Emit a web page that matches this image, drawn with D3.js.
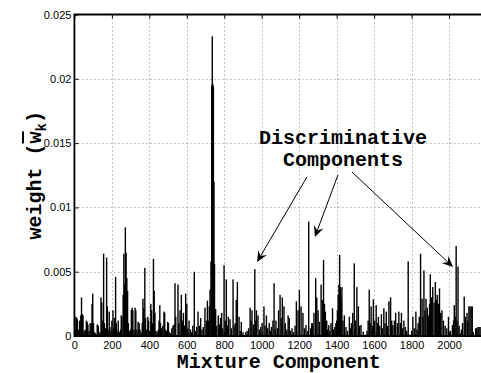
<!DOCTYPE html>
<html><head><meta charset="utf-8">
<script src="https://cdn.jsdelivr.net/npm/d3@7"></script>
<style>html,body{margin:0;padding:0;background:#fff;} svg{display:block}</style>
</head><body><svg id="chart" width="481" height="373"></svg>
<script>
const xTicks = [0,200,400,600,800,1000,1200,1400,1600,1800,2000];
const yTicks = [0,0.005,0.01,0.015,0.02,0.025];
const yTickLabels = ["0","0.005","0.01","0.015","0.02","0.025"];
const xLabel = "Mixture Component";
const noteLines = ["Discriminative","Components"];
// [component, weight]
const bars = [
[3,.0005],[8,.0015],[12,.0014],[16,.0013],[22,.0005],[28,.0012],[34,.0016],[38,.0030],[42,.0017],[46,.0016],
[52,.0004],[58,.0005],[64,.0012],[68,.0011],[72,.0009],[78,.0004],[84,.0010],[90,.0010],[94,.0025],[98,.0033],
[102,.0010],[108,.0003],[114,.0002],[122,.0009],[128,.0008],[136,.0003],[142,.0030],[146,.0026],[150,.0012],[156,.0064],
[160,.0010],[166,.0006],[172,.0061],[176,.0023],[180,.0005],[186,.0019],[190,.0007],[196,.0004],[200,.0012],[206,.0020],
[210,.0006],[214,.0014],[220,.0046],[224,.0010],[228,.0004],[234,.0012],[240,.0003],[246,.0005],[250,.0016],[254,.0015],
[260,.0032],[264,.0064],[268,.0040],[272,.00845],[276,.0065],[280,.0045],[284,.0035],[288,.0010],[294,.0004],[300,.0005],
[304,.0020],[308,.0022],[312,.0020],[318,.0005],[324,.0022],[328,.0020],[334,.0005],[340,.0011],[346,.0010],[350,.0005],
[356,.0003],[362,.0010],[366,.0029],[370,.0022],[376,.0053],[380,.0014],[386,.0005],[392,.0015],[396,.0012],[402,.0004],
[408,.0025],[412,.0020],[418,.0010],[422,.0060],[426,.0035],[430,.0018],[436,.0004],[442,.0003],[448,.0005],[452,.0012],
[456,.0024],[460,.0010],[466,.0006],[472,.0008],[478,.0019],[482,.0018],[486,.0005],[492,.0004],[498,.0011],[502,.0010],
[508,.0003],[514,.0002],[520,.0006],[526,.0008],[532,.0009],[537,.0041],[541,.0015],
[553,.0040],[558,.0010],[564,.0020],[571,.0032],[576,.0012],[582,.0018],[588,.0008],[594,.0033],[600,.0025],[606,.0006],
[612,.0012],[620,.0005],[626,.0003],[632,.0008],[640,.0050],[646,.0004],[653,.0007],[660,.0019],[667,.0008],[674,.0014],
[681,.0005],[688,.0007],[697,.0022],[704,.0012],[710,.00275],[716,.0012],[720,.0023],[724,.0036],[729,.0058],[733,.0195],
[736,.0233],[739,.0196],[742,.0194],[745,.0120],[748,.0056],[754,.0021],[760,.0008],[768,.0016],[774,.0009],[780,.0014],
[786,.0018],[792,.0006],[799,.0055],[805,.0012],[811,.0044],[816,.0008],[822,.0015],[831,.0013],[838,.0006],[847,.0044],
[852,.0008],[858,.0010],[864,.0028],[870,.0042],[879,.0015],[885,.0004],[891,.0011],[900,.0003],[914,.0003],[922,.0004],
[930,.0006],[938,.0022],[943,.0012],[948,.0020],[955,.0009],[963,.0052],[968,.0012],[972,.0020],[980,.0016],[988,.0005],
[995,.0007],[1002,.0010],[1012,.0023],[1018,.0008],[1025,.0016],[1032,.0006],[1040,.0010],[1046,.0004],[1052,.0007],[1060,.0012],
[1066,.0041],[1072,.0005],
[1076,.0012],[1084,.0006],[1090,.0020],[1098,.0032],[1104,.0014],[1110,.0030],[1119,.0023],[1126,.0010],[1134,.0005],[1141,.0016],
[1147,.0014],[1154,.0004],[1162,.0006],[1170,.0003],[1178,.0008],[1185,.0027],[1194,.0020],[1201,.0036],[1210,.0023],[1220,.0018],
[1228,.0006],[1236,.00085],[1244,.0004],[1251,.0089],[1261,.0006],[1267,.0010],[1272,.0010],[1279,.0018],[1288,.0045],[1294,.0030],
[1301,.0020],[1308,.0011],[1317,.0040],[1324,.0028],[1330,.0059],[1335,.0025],[1340,.0019],[1347,.0012],[1352,.0005],[1358,.00085],
[1364,.0004],[1370,.0010],[1378,.00215],[1384,.0005],[1390,.0007],[1396,.0010],[1400,.0012],[1404,.0020],[1408,.0032],[1412,.0040],
[1416,.0063],[1420,.0038],[1424,.0030],[1428,.0038],[1434,.0012],[1441,.0016],[1450,.0007],[1458,.0004],[1468,.0015],[1474,.0006],
[1479,.0010],[1486,.0018],[1494,.00565],[1500,.0012],[1508,.0038],[1516,.0023],[1522,.0008],[1530,.00085],[1542,.00034],[1553,.0001],
[1562,.0004],[1568,.0012],[1574,.0036],[1579,.0010],[1584,.0023],[1590,.0008],[1596,.00285],[1603,.0012],[1611,.0024],[1618,.0010],
[1623,.0015],[1630,.0008],[1639,.0017],[1645,.0006],[1652,.00215],[1658,.0010],[1665,.0019],[1672,.0008],[1679,.0027],[1688,.0030],
[1694,.0012],[1700,.00085],[1708,.0012],[1715,.0018],[1724,.0010],[1732,.0019],[1740,.0010],[1746,.0018],[1752,.0006],[1759,.0012],
[1767,.0007],[1774,.0004],[1782,.0058],[1792,.0001],[1800,.0004],[1807,.0015],[1815,.0006],[1823,.0019],[1829,.0005],[1835,.0010],
[1841,.0015],[1848,.0064],[1856,.0029],[1861,.0015],[1866,.0051],[1872,.0020],[1877,.0029],[1884,.0022],[1891,.0016],[1896,.0025],
[1900,.0048],[1906,.0030],[1913,.0038],[1920,.0026],[1927,.0042],[1932,.0028],[1937,.0032],[1943,.0025],[1949,.0037],[1955,.0018],
[1962,.0020],[1970,.0012],[1979,.0008],[1988,.0006],[1997,.0015],[2003,.0003],[2008,.0004],[2018,.00085],[2024,.0012],[2028,.0024],
[2033,.0015],[2038,.0070],[2043,.0012],[2048,.0054],[2054,.0008],[2061,.0002],[2066,.0005],[2072,.0010],[2081,.00306],[2088,.0015],
[2096,.0018],[2100,.0012],[2106,.0023],[2112,.0023],[2118,.0023],[2124,.0023],[2130,.0003],[2142,.0006],[2148,.0006],[2154,.0007],
[2160,.0007],[2166,.0007]
];
// annotation arrows in data coordinates: from text to target bars
const arrows = [
  {from:[1241,0.01236], to:[975,0.00575]},
  {from:[1407,0.01252], to:[1284,0.0077]},
  {from:[1482,0.01275], to:[2021,0.00537]}
];
const noteAnchor = [1434, 0.0149];

const W = 481, H = 373;
const x = d3.scaleLinear().domain([0, 2200]).range([74.4, 486.5]);
const y = d3.scaleLinear().domain([0, 0.025]).range([336, 14.5]);
const svg = d3.select("#chart");
const tickFont = "'Liberation Sans', Arial, Helvetica, sans-serif";
const monoFont = "'Courier New', 'Liberation Mono', monospace";

// grid
const grid = svg.append("g").attr("stroke", "#888").attr("stroke-width", 1).attr("stroke-dasharray", "1,3");
grid.selectAll(".gx").data(xTicks.filter(t => t > 0)).join("line")
  .attr("x1", d => Math.round(x(d)) + 0.5).attr("x2", d => Math.round(x(d)) + 0.5)
  .attr("y1", y(0.025)).attr("y2", y(0));
grid.selectAll(".gy").data(yTicks.filter(t => t > 0 && t < 0.025)).join("line")
  .attr("y1", d => Math.round(y(d)) + 0.5).attr("y2", d => Math.round(y(d)) + 0.5)
  .attr("x1", x(0)).attr("x2", W);

// bars
svg.append("g").selectAll("rect").data(bars).join("rect")
  .attr("x", d => x(d[0]) - 0.7).attr("width", 1.4)
  .attr("y", d => y(d[1])).attr("height", d => y(0) - y(d[1]))
  .attr("fill", "#000");

// axes
const xb = svg.append("g").attr("transform", `translate(0,${y(0)})`)
  .call(d3.axisBottom(x).tickValues(xTicks).tickSizeInner(-4).tickSizeOuter(0).tickPadding(5).tickFormat(d3.format("d")));
const xt = svg.append("g").attr("transform", `translate(0,${y(0.025)})`)
  .call(d3.axisTop(x).tickValues(xTicks).tickSizeInner(-4).tickSizeOuter(0).tickFormat(""));
const yl = svg.append("g").attr("transform", `translate(${x(0)},0)`)
  .call(d3.axisLeft(y).tickValues(yTicks).tickSizeInner(-4).tickSizeOuter(0).tickPadding(3).tickFormat((d, i) => yTickLabels[i]));
[xb, xt, yl].forEach(g => {
  g.select(".domain").remove();
  g.selectAll("line").attr("stroke", "#000");
  g.selectAll("text").attr("font-family", tickFont).attr("font-size", 11).attr("fill", "#000");
});

// box
svg.append("path")
  .attr("d", `M${W + 5},${y(0.025)}H${x(0)}V${y(0)}H${W + 5}`)
  .attr("fill", "none").attr("stroke", "#000").attr("stroke-width", 1.8);

// labels
svg.append("text").attr("x", (x(0) + 481) / 2 + 1).attr("y", 368)
  .attr("text-anchor", "middle").attr("font-family", monoFont).attr("font-weight", "bold")
  .attr("font-size", 20).text(xLabel);

const ylab = svg.append("text").attr("transform", `translate(41,${(y(0) + y(0.025)) / 2}) rotate(-90)`)
  .attr("text-anchor", "middle").attr("font-family", monoFont).attr("font-weight", "bold").attr("font-size", 20);
ylab.append("tspan").text("weight (");
ylab.append("tspan").attr("text-decoration", "overline").text("w");
ylab.append("tspan").attr("font-size", 14).attr("dy", 5).text("k");
ylab.append("tspan").attr("dy", -5).text(")");

// annotation
const note = svg.append("text").attr("text-anchor", "middle").attr("font-family", monoFont)
  .attr("font-weight", "bold").attr("font-size", 20);
noteLines.forEach((t, i) => note.append("tspan").attr("x", x(noteAnchor[0])).attr("y", y(noteAnchor[1]) + i * 22).text(t));

const ag = svg.append("g");
arrows.forEach(a => {
  const x1 = x(a.from[0]), y1 = y(a.from[1]), x2 = x(a.to[0]), y2 = y(a.to[1]);
  const ang = Math.atan2(y2 - y1, x2 - x1);
  const L = 11, Wd = 5, notch = 7;
  const bx = x2 - L * Math.cos(ang), by = y2 - L * Math.sin(ang);
  const nx = x2 - notch * Math.cos(ang), ny = y2 - notch * Math.sin(ang);
  const px = -Math.sin(ang), py = Math.cos(ang);
  ag.append("line").attr("x1", x1).attr("y1", y1).attr("x2", nx).attr("y2", ny)
    .attr("stroke", "#000").attr("stroke-width", 1);
  ag.append("path").attr("d", `M${x2},${y2}L${bx + px * Wd},${by + py * Wd}L${nx},${ny}L${bx - px * Wd},${by - py * Wd}Z`)
    .attr("fill", "#000");
});
</script></body></html>
